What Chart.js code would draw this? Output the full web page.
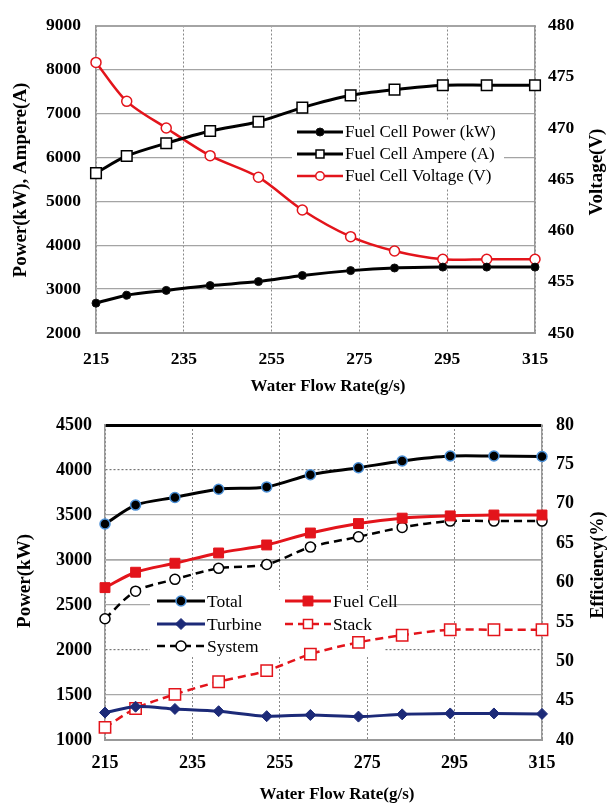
<!DOCTYPE html>
<html><head><meta charset="utf-8">
<script src="https://cdn.jsdelivr.net/npm/chart.js@4.4.0/dist/chart.umd.min.js"></script>
<style>
html,body{margin:0;padding:0;background:#fff;}
#w1{position:absolute;left:0;top:0;width:616px;height:400px;}
#w2{position:absolute;left:0;top:400px;width:616px;height:405px;}
canvas{display:block;}
</style></head><body>
<div id="w1"><canvas id="c1" width="616" height="400"></canvas></div>
<div id="w2"><canvas id="c2" width="616" height="405"></canvas></div>
<script>
// ---------- DATA ----------
const waterFlow = [215, 222, 231, 241, 252, 262, 273, 283, 294, 304, 315];
// top chart
const fcPower   = [2680, 2860, 2970, 3080, 3170, 3310, 3420, 3480, 3500, 3500, 3500];
const fcAmpere  = [5640, 6030, 6320, 6600, 6810, 7130, 7410, 7540, 7640, 7640, 7640];
const fcVoltage = [476.4, 472.6, 470.0, 467.3, 465.2, 462.0, 459.4, 458.0, 457.2, 457.2, 457.2];
// bottom chart
const totalPower   = [3400, 3610, 3695, 3786, 3812, 3948, 4025, 4100, 4155, 4155, 4150];
const fuelCellPower= [2693, 2864, 2964, 3078, 3167, 3300, 3405, 3465, 3490, 3500, 3500];
const turbinePower = [1305, 1370, 1345, 1320, 1265, 1278, 1260, 1285, 1295, 1295, 1290];
const stackEff     = [41.6, 44.0, 45.8, 47.4, 48.8, 50.9, 52.4, 53.3, 54.0, 54.0, 54.0];
const systemEff    = [55.4, 58.9, 60.4, 61.8, 62.3, 64.5, 65.8, 67.0, 67.8, 67.8, 67.8];
// labels
const xTitle = 'Water Flow Rate(g/s)';
const topLeftTitle = 'Power(kW), Ampere(A)';
const topRightTitle = 'Voltage(V)';
const botLeftTitle = 'Power(kW)';
const botRightTitle = 'Efficiency(%)';
const topLabels = ['Fuel Cell Power (kW)', 'Fuel Cell Ampere (A)', 'Fuel Cell Voltage (V)'];
const botLabels = ['Total', 'Fuel Cell', 'Turbine', 'Stack', 'System'];

// ---------- STYLE ----------
const SERIF = "'Liberation Serif', 'Times New Roman', serif";
const RED = '#e3141b';
const NAVY = '#1c2a78';
Chart.defaults.font.family = SERIF;
Chart.defaults.color = '#000';

function pts(arr) { return waterFlow.map((x, i) => ({ x: x, y: arr[i] })); }
const plain = v => String(v);

function drawMarker(ctx, style, r, x, y) {
  ctx.beginPath();
  if (style === 'rect') {
    const s = Math.SQRT1_2 * r;
    ctx.rect(x - s, y - s, 2 * s, 2 * s);
  } else if (style === 'rectRot') {
    ctx.moveTo(x, y - r); ctx.lineTo(x + r, y); ctx.lineTo(x, y + r); ctx.lineTo(x - r, y); ctx.closePath();
  } else {
    ctx.arc(x, y, r, 0, Math.PI * 2);
  }
  ctx.fill();
  ctx.stroke();
}

function makeDecor(titles, legendItems, box) {
  return {
    id: 'decor',
    beforeDatasetsDraw(chart) {
      if (!box) return;
      const ctx = chart.ctx;
      ctx.save();
      ctx.fillStyle = '#fff';
      ctx.fillRect(box.x, box.y, box.w, box.h);
      ctx.restore();
    },
    afterDatasetsDraw(chart) {
      const ctx = chart.ctx;
      legendItems.forEach(it => {
        const ds = chart.data.datasets[it.index];
        ctx.save();
        ctx.strokeStyle = ds.borderColor;
        ctx.lineWidth = ds.borderWidth;
        ctx.setLineDash(ds.borderDash || []);
        ctx.beginPath(); ctx.moveTo(it.x1, it.y); ctx.lineTo(it.x2, it.y); ctx.stroke();
        ctx.setLineDash([]);
        ctx.fillStyle = ds.pointBackgroundColor;
        ctx.strokeStyle = ds.pointBorderColor;
        ctx.lineWidth = ds.pointBorderWidth;
        drawMarker(ctx, ds.pointStyle, ds.pointRadius * (it.scale || 1), (it.x1 + it.x2) / 2, it.y);
        ctx.font = it.font;
        ctx.fillStyle = '#000';
        ctx.textAlign = 'left';
        ctx.textBaseline = 'middle';
        ctx.fillText(ds.label, it.x2 + 2, it.y + 1);
        ctx.restore();
      });
    },
    afterDraw(chart) {
      const ctx = chart.ctx;
      titles.forEach(t => {
        ctx.save();
        ctx.font = t.font;
        ctx.fillStyle = '#000';
        ctx.textAlign = 'center';
        ctx.textBaseline = 'middle';
        ctx.translate(t.x, t.y);
        if (t.rot) ctx.rotate(t.rot);
        ctx.fillText(t.text, 0, 0);
        ctx.restore();
      });
    }
  };
}

const tickFont = (s) => ({ family: SERIF, size: s, weight: 'bold' });

// ---------- TOP CHART ----------
new Chart(document.getElementById('c1'), {
  type: 'line',
  data: {
    datasets: [
      { label: topLabels[0], data: pts(fcPower), yAxisID: 'y', borderColor: '#000', borderWidth: 3,
        pointStyle: 'circle', pointRadius: 4, pointBackgroundColor: '#000', pointBorderColor: '#111', pointBorderWidth: 1,
        tension: 0.3, clip: false },
      { label: topLabels[1], data: pts(fcAmpere), yAxisID: 'y', borderColor: '#000', borderWidth: 3,
        pointStyle: 'rect', pointRadius: 7.5, pointBackgroundColor: '#fff', pointBorderColor: '#000', pointBorderWidth: 1.5,
        tension: 0.3, clip: false },
      { label: topLabels[2], data: pts(fcVoltage), yAxisID: 'y1', borderColor: RED, borderWidth: 2.5,
        pointStyle: 'circle', pointRadius: 5, pointBackgroundColor: '#fff', pointBorderColor: RED, pointBorderWidth: 1.5,
        tension: 0.3, clip: false }
    ]
  },
  options: {
    responsive: false, animation: false, devicePixelRatio: 1,
    layout: { padding: { top: 16, left: 0, right: 0, bottom: 0 } },
    plugins: { legend: { display: false }, tooltip: { enabled: false } },
    scales: {
      x: { type: 'linear', position: 'bottom', min: 215, max: 315,
        ticks: { stepSize: 20, padding: 16, font: tickFont(17.5), color: '#000', maxRotation: 0, callback: plain },
        grid: { color: '#888', lineWidth: 1, drawTicks: false },
        border: { display: true, color: '#999', width: 2, dash: [2, 2] },
        afterFit: s => { s.height = 67; } },
      y: { type: 'linear', position: 'left', min: 2000, max: 9000,
        ticks: { stepSize: 1000, padding: 15, font: tickFont(17.5), color: '#000', callback: plain },
        grid: { color: '#a4a4a4', lineWidth: c => (c.tick && c.tick.value === 9000 ? 2 : 1.2), drawTicks: false },
        border: { display: true, color: '#999', width: 1.5 },
        afterFit: s => { s.width = 96; } },
      y1: { type: 'linear', position: 'right', min: 450, max: 480,
        ticks: { stepSize: 5, padding: 13, font: tickFont(17.5), color: '#000', callback: plain },
        grid: { drawOnChartArea: false, drawTicks: false },
        border: { display: true, color: '#999', width: 1.5 },
        afterFit: s => { s.width = 81; } }
    }
  },
  plugins: [makeDecor(
    [
      { text: topLeftTitle, x: 21, y: 180, rot: -Math.PI / 2, font: 'bold 19px ' + SERIF },
      { text: topRightTitle, x: 597, y: 172, rot: -Math.PI / 2, font: 'bold 19px ' + SERIF },
      { text: xTitle, x: 328, y: 387, rot: 0, font: 'bold 17px ' + SERIF }
    ],
    [
      { index: 0, x1: 297, x2: 343, y: 132, font: '17px ' + SERIF },
      { index: 1, x1: 297, x2: 343, y: 154, font: '17px ' + SERIF, scale: 0.75 },
      { index: 2, x1: 297, x2: 343, y: 176, font: '17px ' + SERIF, scale: 0.85 }
    ],
    { x: 292, y: 120, w: 212, h: 68 }
  )]
});

// ---------- BOTTOM CHART ----------
new Chart(document.getElementById('c2'), {
  type: 'line',
  data: {
    datasets: [
      { label: botLabels[0], data: pts(totalPower), yAxisID: 'y', borderColor: '#000', borderWidth: 3,
        pointStyle: 'circle', pointRadius: 5, pointBackgroundColor: '#000', pointBorderColor: '#4a8fd6', pointBorderWidth: 1.5,
        tension: 0.3, clip: false },
      { label: botLabels[1], data: pts(fuelCellPower), yAxisID: 'y', borderColor: RED, borderWidth: 3,
        pointStyle: 'rect', pointRadius: 7, pointBackgroundColor: RED, pointBorderColor: RED, pointBorderWidth: 1,
        tension: 0.3, clip: false },
      { label: botLabels[2], data: pts(turbinePower), yAxisID: 'y', borderColor: NAVY, borderWidth: 3,
        pointStyle: 'rectRot', pointRadius: 5.5, pointBackgroundColor: NAVY, pointBorderColor: NAVY, pointBorderWidth: 1,
        tension: 0.3, clip: false },
      { label: botLabels[3], data: pts(stackEff), yAxisID: 'y1', borderColor: RED, borderWidth: 2.5, borderDash: [8, 5],
        pointStyle: 'rect', pointRadius: 8, pointBackgroundColor: '#fff', pointBorderColor: RED, pointBorderWidth: 1.5,
        tension: 0.3, clip: false },
      { label: botLabels[4], data: pts(systemEff), yAxisID: 'y1', borderColor: '#000', borderWidth: 2.5, borderDash: [8, 5],
        pointStyle: 'circle', pointRadius: 5, pointBackgroundColor: '#fff', pointBorderColor: '#000', pointBorderWidth: 1.5,
        tension: 0.3, clip: false }
    ]
  },
  options: {
    responsive: false, animation: false, devicePixelRatio: 1,
    layout: { padding: { top: 25, left: 0, right: 0, bottom: 0 } },
    plugins: { legend: { display: false }, tooltip: { enabled: false } },
    scales: {
      x: { type: 'linear', position: 'bottom', min: 215, max: 315,
        ticks: { stepSize: 20, padding: 13, font: tickFont(18), color: '#000', maxRotation: 0, callback: plain },
        grid: { color: '#888', lineWidth: 1, drawTicks: false },
        border: { display: true, color: '#999', width: 2, dash: [2, 2] },
        afterFit: s => { s.height = 65; } },
      y: { type: 'linear', position: 'left', min: 1000, max: 4500,
        ticks: { stepSize: 500, padding: 13, font: tickFont(18), color: '#000', callback: plain },
        grid: {
          color: c => { const v = c.tick ? c.tick.value : 0; return v === 4500 ? '#000' : (v === 4000 || v === 2000 ? '#777' : '#a8a8a8'); },
          lineWidth: c => { const v = c.tick ? c.tick.value : 0; return v === 4500 ? 3 : (v === 3000 ? 1.8 : 1.2); },
          drawTicks: false },
        border: { display: true, color: '#999', width: 1.5,
          dash: c => { const v = c.tick ? c.tick.value : 0; return (v === 4000 || v === 2000) ? [2, 2] : []; } },
        afterFit: s => { s.width = 105; } },
      y1: { type: 'linear', position: 'right', min: 40, max: 80,
        ticks: { stepSize: 5, padding: 14, font: tickFont(18), color: '#000', callback: plain },
        grid: { drawOnChartArea: false, drawTicks: false },
        border: { display: true, color: '#999', width: 1.5 },
        afterFit: s => { s.width = 74; } }
    }
  },
  plugins: [makeDecor(
    [
      { text: botLeftTitle, x: 25, y: 181, rot: -Math.PI / 2, font: 'bold 19px ' + SERIF },
      { text: botRightTitle, x: 598, y: 165, rot: -Math.PI / 2, font: 'bold 18px ' + SERIF },
      { text: xTitle, x: 337, y: 395, rot: 0, font: 'bold 17px ' + SERIF }
    ],
    [
      { index: 0, x1: 157, x2: 205, y: 201, font: '17.5px ' + SERIF },
      { index: 1, x1: 285, x2: 331, y: 201, font: '17.5px ' + SERIF },
      { index: 2, x1: 157, x2: 205, y: 224, font: '17.5px ' + SERIF },
      { index: 3, x1: 285, x2: 331, y: 224, font: '17.5px ' + SERIF, scale: 0.8 },
      { index: 4, x1: 157, x2: 205, y: 246, font: '17.5px ' + SERIF }
    ],
    { x: 150, y: 190, w: 235, h: 67 }
  )]
});
</script>
</body></html>
